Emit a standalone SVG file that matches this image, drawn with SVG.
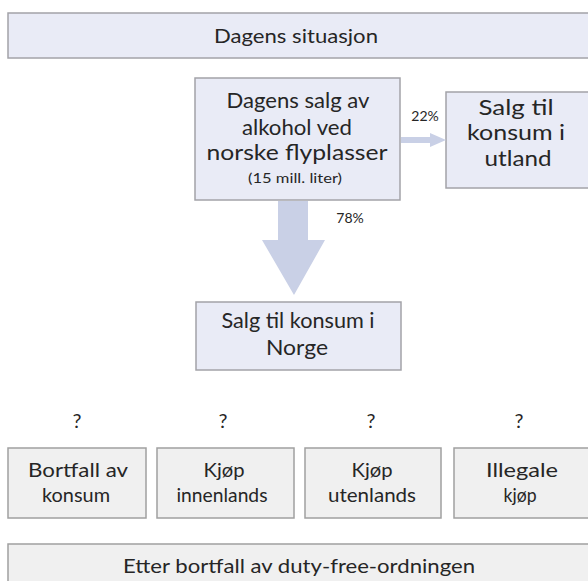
<svg xmlns="http://www.w3.org/2000/svg" width="588" height="581" viewBox="0 0 588 581">
<style>
  .blue { fill: #e9ebf6; stroke: #a3a3a8; stroke-width: 1.5; }
  .grey { fill: #f0f0f0; stroke: #a0a0a0; stroke-width: 1.5; }
  text { font-family: "Lato", "Liberation Sans", sans-serif; fill: #262626; text-anchor: middle; }
  .t22 { font-size: 22px; }
  .t20 { font-size: 20px; }
  .small { font-size: 13px; }
  .pct { font-size: 14px; }
  .arrow { fill: #c9d0e6; }
</style>
<rect width="588" height="581" fill="#ffffff"/>
<g id="title-top">
  <rect class="blue" x="8" y="13" width="584" height="45"/>
  <text class="t20" x="296" y="43" textLength="164" lengthAdjust="spacingAndGlyphs">Dagens situasjon</text>
</g>
<g id="node-main">
  <rect class="blue" x="195" y="78" width="205" height="122"/>
  <text class="t22" x="298" y="108" textLength="143" lengthAdjust="spacingAndGlyphs">Dagens salg av</text>
  <text class="t22" x="297" y="135" textLength="110" lengthAdjust="spacingAndGlyphs">alkohol ved</text>
  <text class="t22" x="297" y="160" textLength="181" lengthAdjust="spacingAndGlyphs">norske flyplasser</text>
  <text class="small" x="295" y="183" textLength="94" lengthAdjust="spacingAndGlyphs">(15 mill. liter)</text>
</g>
<g id="node-utland">
  <rect class="blue" x="446" y="92" width="146" height="96"/>
  <text class="t22" x="516" y="115" textLength="75" lengthAdjust="spacingAndGlyphs">Salg til</text>
  <text class="t22" x="516" y="140" textLength="98" lengthAdjust="spacingAndGlyphs">konsum i</text>
  <text class="t22" x="518" y="166" textLength="67" lengthAdjust="spacingAndGlyphs">utland</text>
</g>
<g id="node-norge">
  <rect class="blue" x="196" y="302" width="205" height="68"/>
  <text class="t22" x="298" y="328" textLength="153" lengthAdjust="spacingAndGlyphs">Salg til konsum i</text>
  <text class="t22" x="297" y="355" textLength="62" lengthAdjust="spacingAndGlyphs">Norge</text>
</g>
<g id="connectors">
  <polygon class="arrow" points="401,137 430,137 430,133 446,140 430,147 430,143 401,143"/>
  <text class="pct" x="425" y="121">22%</text>
  <polygon class="arrow" points="278,201 308,201 308,240 325,240 294,295 262,240 278,240"/>
  <text class="pct" x="350" y="223">78%</text>
</g>
<g id="q1"><text class="t20" x="77" y="428">?</text></g>
<g id="q2"><text class="t20" x="223" y="428">?</text></g>
<g id="q3"><text class="t20" x="371" y="428">?</text></g>
<g id="q4"><text class="t20" x="519" y="428">?</text></g>
<g id="node-bortfall">
  <rect class="grey" x="8" y="448" width="138" height="70"/>
  <text class="t20" x="78" y="477" textLength="100" lengthAdjust="spacingAndGlyphs">Bortfall av</text>
  <text class="t20" x="76" y="502" textLength="68" lengthAdjust="spacingAndGlyphs">konsum</text>
</g>
<g id="node-innenlands">
  <rect class="grey" x="157" y="448" width="137" height="70"/>
  <text class="t20" x="224" y="477" textLength="41" lengthAdjust="spacingAndGlyphs">Kjøp</text>
  <text class="t20" x="222" y="502" textLength="91" lengthAdjust="spacingAndGlyphs">innenlands</text>
</g>
<g id="node-utenlands">
  <rect class="grey" x="305" y="448" width="136" height="70"/>
  <text class="t20" x="372" y="477" textLength="41" lengthAdjust="spacingAndGlyphs">Kjøp</text>
  <text class="t20" x="372" y="502" textLength="88" lengthAdjust="spacingAndGlyphs">utenlands</text>
</g>
<g id="node-illegale">
  <rect class="grey" x="454" y="448" width="140" height="70"/>
  <text class="t20" x="522" y="477" textLength="72" lengthAdjust="spacingAndGlyphs">Illegale</text>
  <text class="t20" x="520" y="502" textLength="33" lengthAdjust="spacingAndGlyphs">kjøp</text>
</g>
<g id="title-bottom">
  <rect class="grey" x="8" y="544" width="584" height="45"/>
  <text class="t20" x="299" y="573" textLength="352" lengthAdjust="spacingAndGlyphs">Etter bortfall av duty-free-ordningen</text>
</g>
</svg>
